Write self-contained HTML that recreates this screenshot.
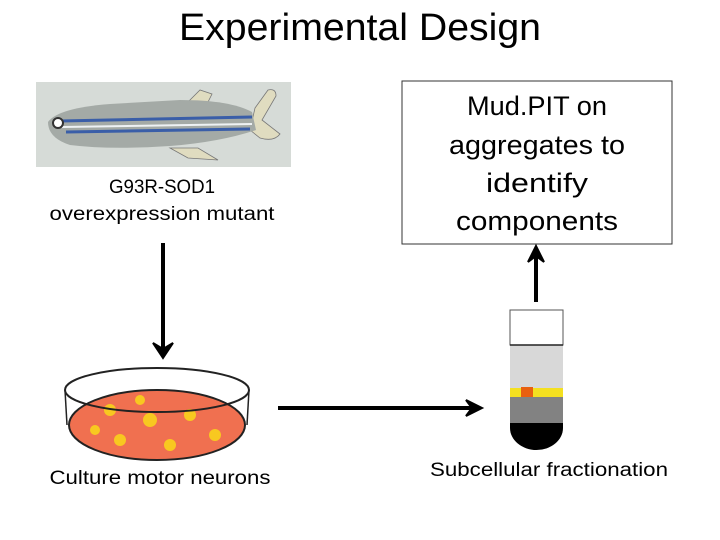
<!DOCTYPE html>
<html><head><style>body{margin:0;background:#fff}svg{display:block}text{font-family:"Liberation Sans",sans-serif;fill:#000}</style></head><body>
<svg width="720" height="540" viewBox="0 0 720 540">
<text x="360" y="40" font-size="38" text-anchor="middle" textLength="362" lengthAdjust="spacingAndGlyphs">Experimental Design</text>
<rect x="36" y="82" width="255" height="85" fill="#d6dbd7"/>
<path d="M188 102 L200 90 L212 94 L206 106Z M170 148 L198 148 L218 160 L188 158Z M255 108 L268 90 Q276 88 276 96 L262 120 L280 134 Q274 142 260 138 L250 130Z" fill="#e0dcc0" stroke="#777" stroke-width="0.8"/>
<path d="M48 122 Q58 108 110 104 L180 100 Q230 100 252 112 L256 130 Q220 142 170 146 Q110 150 70 145 Q48 138 48 122Z" fill="#a4aaa6"/>
<path d="M60 121 L252 117" stroke="#3a5ea8" stroke-width="3"/>
<path d="M62 127 L252 124" stroke="#eef2f4" stroke-width="2"/>
<path d="M66 132 L250 129" stroke="#3a5ea8" stroke-width="3"/>
<circle cx="58" cy="123" r="5" fill="#fff" stroke="#333" stroke-width="2"/>
<text x="162" y="193" font-size="19" text-anchor="middle" textLength="106" lengthAdjust="spacingAndGlyphs">G93R-SOD1</text>
<text x="162" y="220" font-size="19" text-anchor="middle" textLength="225" lengthAdjust="spacingAndGlyphs">overexpression mutant</text>
<line x1="163" y1="243" x2="163" y2="348" stroke="#000" stroke-width="4"/>
<path d="M153 343 L163 358 L173 343 L163 349Z" fill="#000" stroke="#000" stroke-width="2"/>
<ellipse cx="157" cy="425" rx="88" ry="35" fill="#f07050" stroke="#222" stroke-width="2"/>
<g fill="#f8c820"><circle cx="110" cy="410" r="6"/><circle cx="150" cy="420" r="7"/><circle cx="190" cy="415" r="6"/><circle cx="120" cy="440" r="6"/><circle cx="170" cy="445" r="6"/><circle cx="215" cy="435" r="6"/><circle cx="95" cy="430" r="5"/><circle cx="140" cy="400" r="5"/></g>
<ellipse cx="157" cy="390" rx="92" ry="22" fill="none" stroke="#222" stroke-width="2"/>
<line x1="65" y1="390" x2="67" y2="425" stroke="#222" stroke-width="1.5"/>
<line x1="249" y1="390" x2="247" y2="425" stroke="#222" stroke-width="1.5"/>
<text x="160" y="484" font-size="19" text-anchor="middle" textLength="221" lengthAdjust="spacingAndGlyphs">Culture motor neurons</text>
<line x1="278" y1="408" x2="472" y2="408" stroke="#000" stroke-width="4"/>
<path d="M466 400 L482 408 L466 416 L472 408Z" fill="#000" stroke="#000" stroke-width="2"/>
<rect x="402" y="81" width="270" height="163" fill="#fff" stroke="#333" stroke-width="1"/>
<g font-size="27" text-anchor="middle" lengthAdjust="spacingAndGlyphs"><text x="537" y="115" textLength="140" lengthAdjust="spacingAndGlyphs">Mud.PIT on</text><text x="537" y="154" textLength="176" lengthAdjust="spacingAndGlyphs">aggregates to</text><text x="537" y="192" textLength="102" lengthAdjust="spacingAndGlyphs">identify</text><text x="537" y="230" textLength="162" lengthAdjust="spacingAndGlyphs">components</text></g>
<line x1="536" y1="302" x2="536" y2="256" stroke="#000" stroke-width="4"/>
<path d="M528 262 L536 246 L544 262 L536 256Z" fill="#000" stroke="#000" stroke-width="2"/>
<rect x="510" y="310" width="53" height="35" fill="#fff" stroke="#555" stroke-width="1"/>
<rect x="510" y="345" width="53" height="43" fill="#d8d8d8"/>
<line x1="510" y1="345" x2="563" y2="345" stroke="#222" stroke-width="1.5"/>
<rect x="510" y="388" width="53" height="9" fill="#f4e020"/>
<rect x="521" y="387" width="12" height="10" fill="#e86010"/>
<rect x="510" y="397" width="53" height="26" fill="#828282"/>
<path d="M510 423 L563 423 L563 428 A26.5 22 0 0 1 510 428Z" fill="#000"/>
<text x="549" y="476" font-size="19" text-anchor="middle" textLength="238" lengthAdjust="spacingAndGlyphs">Subcellular fractionation</text>
</svg>
</body></html>
